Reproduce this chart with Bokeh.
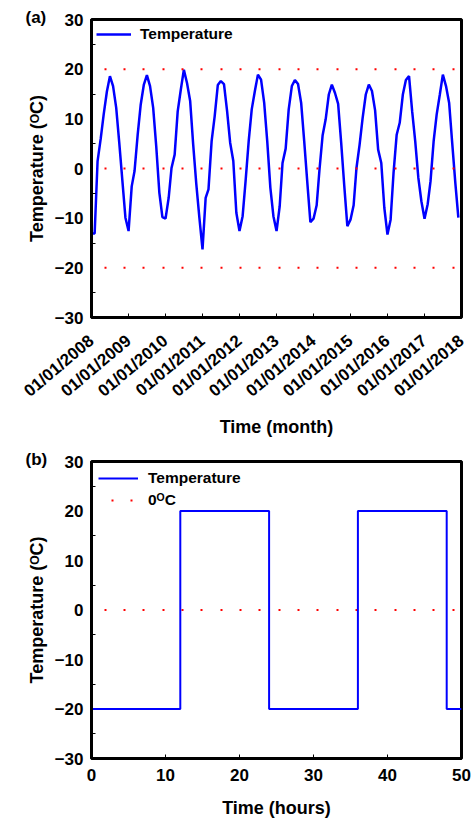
import pandas as pd
from bokeh.plotting import figure
from bokeh.layouts import column
from bokeh.models import (Range1d, FixedTicker, DatetimeTickFormatter, Span,
                          Legend, LegendItem)
from bokeh.embed import file_html
from bokeh.resources import INLINE

# ---------------- data ----------------
months = pd.date_range("2008-01-01", periods=120, freq="MS")
temperature_monthly = [
    -13.1, -13.1, 1.5, 6.0, 11.0, 15.5, 18.6, 16.6, 12.2, 5.2, -2.5, -9.9,     # 2008
    -12.6, -3.6, -0.5, 6.8, 12.9, 16.9, 18.8, 16.6, 12.2, 4.5, -4.9, -9.8,     # 2009
    -10.1, -5.9, 0.1, 2.8, 11.5, 15.9, 19.9, 17.2, 13.6, 4.8, -3.2, -9.9,      # 2010
    -16.3, -5.9, -4.2, 5.5, 10.5, 16.8, 17.6, 17.0, 11.5, 5.2, 1.5, -8.9,      # 2011
    -12.6, -9.6, -2.6, 5.5, 11.9, 15.6, 18.9, 17.9, 13.2, 5.5, -3.9, -9.6,     # 2012
    -12.6, -7.6, 1.1, 4.0, 11.9, 16.6, 17.8, 17.0, 13.2, 5.5, -2.9, -10.8,     # 2013
    -10.1, -7.4, -0.2, 6.7, 9.9, 14.9, 16.9, 15.2, 13.0, 5.2, -3.6, -11.6,     # 2014
    -10.3, -7.4, 0.1, 4.8, 10.2, 14.9, 16.9, 15.6, 11.7, 3.8, 1.1, -7.9,       # 2015
    -13.3, -10.3, -0.9, 6.8, 9.2, 14.9, 17.8, 18.6, 11.5, 5.5, -1.9, -6.6,     # 2016
    -10.1, -7.2, -2.6, 5.5, 10.9, 14.9, 18.9, 16.6, 13.2, 5.2, -2.9, -9.9,     # 2017
]
year_ticks = pd.date_range("2008-01-01", "2018-01-01", freq="YS")
ref_levels = [20, 0, -20]
y_ticks = [-30, -20, -10, 0, 10, 20, 30]
y_minor_ticks = [-25, -15, -5, 5, 15, 25]

hours = [0, 12, 24, 36, 48, 50]
temperature_hourly = [-20, 20, -20, 20, -20, -20]
zero_hours = [0, 50]
zero_level = [0, 0]
hour_ticks = [0, 10, 20, 30, 40, 50]

# ---------------- style ----------------
FONT = "Liberation Sans"
BLUE = "#0000FF"
RED = "#FF0000"
DOT = "2 17 2 17 2 18"


def style_axes(p, y_label, x_label, tag):
    for ax in (p.xaxis[0], p.yaxis[0]):
        ax.axis_line_width = 3
        ax.axis_line_color = "black"
        ax.major_tick_in = 4
        ax.major_tick_out = 0
        ax.minor_tick_in = 4
        ax.minor_tick_out = 0
        ax.major_tick_line_width = 1
        ax.minor_tick_line_width = 1
        ax.major_label_text_font = FONT
        ax.major_label_text_font_style = "bold"
        ax.major_label_text_font_size = "17px"
        ax.major_label_text_color = "black"
        ax.axis_label_text_font = FONT
        ax.axis_label_text_font_style = "bold"
        ax.axis_label_text_font_size = "18px"
        ax.axis_label_text_color = "black"
    p.yaxis[0].major_tick_in = 0
    p.yaxis[0].axis_label = y_label
    p.xaxis[0].axis_label = x_label
    p.yaxis[0].ticker = FixedTicker(ticks=y_ticks, minor_ticks=y_minor_ticks)
    p.yaxis[0].major_label_standoff = 8
    p.yaxis[0].axis_label_standoff = 5
    p.xgrid.visible = False
    p.ygrid.visible = False
    p.outline_line_color = "black"
    p.outline_line_width = 3
    p.outline_line_alpha = 1
    p.title.text = tag
    p.title.align = "left"
    p.title.offset = -66
    p.title.standoff = -14
    p.title.text_font = FONT
    p.title.text_font_style = "bold"
    p.title.text_font_size = "17px"
    p.title.text_color = "black"


def make_legend(items, glyph_width, standoff, loc):
    return Legend(items=items, location=loc, margin=0, padding=0,
                  glyph_width=glyph_width, glyph_height=20, label_height=20,
                  label_standoff=standoff, spacing=2,
                  border_line_color=None, background_fill_alpha=0,
                  label_text_font=FONT, label_text_font_style="bold",
                  label_text_font_size="15.5px", label_text_color="black")


# ---------------- panel (a) ----------------
pa = figure(width=472, height=440, x_axis_type="datetime",
            x_range=Range1d(year_ticks[0], year_ticks[-1]), y_range=Range1d(-30, 30),
            output_backend="svg", toolbar_location=None,
            min_border_left=91, min_border_right=11, min_border_top=19,
            min_border_bottom=123, background_fill_color="white",
            border_fill_color="white")
style_axes(pa, "Temperature (\u1D3CC)", "Time (month)", "(a)")
tick_ms = [int(t.value // 10**6) for t in year_ticks]
pa.xaxis[0].ticker = FixedTicker(ticks=tick_ms, minor_ticks=[])
fmt = "%m/%d/%Y"
pa.xaxis[0].formatter = DatetimeTickFormatter(
    microseconds=fmt, milliseconds=fmt, seconds=fmt, minsec=fmt, minutes=fmt,
    hourmin=fmt, hours=fmt, days=fmt, months=fmt, years=fmt)
pa.xaxis[0].major_label_orientation = 0.70
pa.xaxis[0].major_label_standoff = 21
pa.xaxis[0].axis_label_standoff = 6

for lvl in ref_levels:
    pa.add_layout(Span(location=lvl, dimension="width", line_color=RED,
                       line_width=2, line_dash=DOT, line_dash_offset=45))

ra = pa.line(months, temperature_monthly, line_color=BLUE, line_width=2.5)
pa.add_layout(make_legend([LegendItem(label="Temperature", renderers=[ra])],
                          35, 9, (5, 273)))

# ---------------- panel (b) ----------------
pb = figure(width=472, height=381, x_range=Range1d(0, 50), y_range=Range1d(-30, 30),
            output_backend="svg", toolbar_location=None,
            min_border_left=91, min_border_right=11, min_border_top=21,
            min_border_bottom=63, background_fill_color="white",
            border_fill_color="white")
style_axes(pb, "Temperature (\u1D3CC)", "Time (hours)", "(b)")
pb.xaxis[0].ticker = FixedTicker(ticks=hour_ticks, minor_ticks=[])
pb.xaxis[0].major_label_standoff = 10
pb.xaxis[0].axis_label_standoff = 14

rz = pb.line(zero_hours, zero_level, line_color=RED, line_width=2,
             line_dash=DOT, line_dash_offset=45)
rb = pb.step(hours, temperature_hourly, mode="after", line_color=BLUE, line_width=2)
pb.add_layout(make_legend([LegendItem(label="Temperature", renderers=[rb]),
                           LegendItem(label="0\u1D3CC", renderers=[rz])],
                          40, 10, (7, 248)))

layout = column(pa, pb, spacing=0)
open("out.html", "w").write(file_html(layout, INLINE))
